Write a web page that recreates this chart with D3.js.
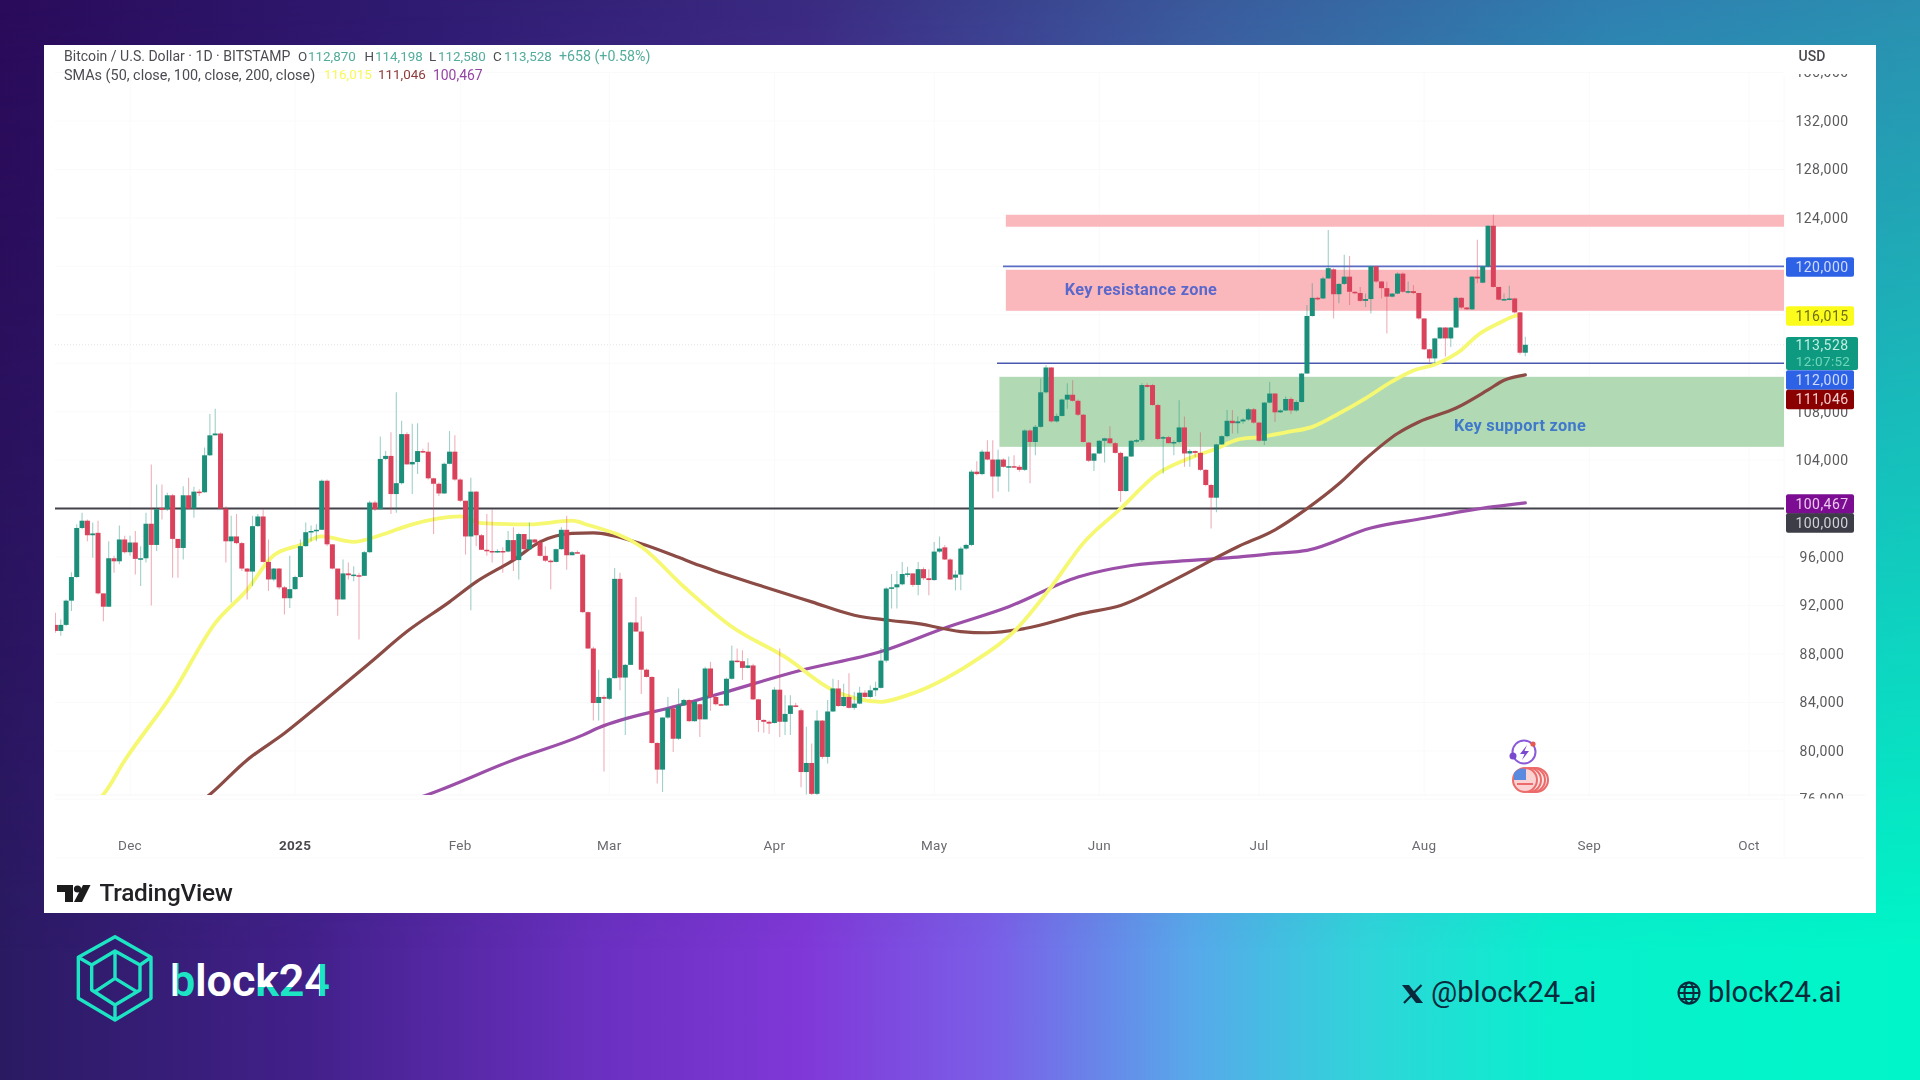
<!DOCTYPE html>
<html>
<head>
<meta charset="utf-8">
<title>BTC/USD daily</title>
<script src="https://cdn.jsdelivr.net/npm/d3@7"></script>
<style>
  html, body { margin: 0; padding: 0; background: #2a0a5a; overflow: hidden; }
  svg { display: block; }
  text { font-family: Roboto, "Liberation Sans", sans-serif; }
</style>
</head>
<body>
<svg id="chart" width="1920" height="1080"></svg>
<script>
// all prices are in thousand USD
var firstCandle = "2024-11-17";

var opens = [
  90.4,89.9,90.4,92.4,94.35,98.4,99.0,97.8,98.0,93.0,91.9,95.9,95.65,97.45,
  96.4,97.2,95.85,95.9,98.75,97.0,100.05,99.95,101.1,97.5,96.75,101.1,100.0,101.4,101.35,104.4,106.05,106.2,100.0,97.3,97.7,97.15,95.05,94.8,98.55,99.35,95.6,94.15,95.05,93.5,92.6,
  93.35,94.35,96.9,98.05,98.15,98.25,102.3,97.05,95.05,92.5,94.65,94.5,94.5,94.45,96.4,100.5,99.95,104.1,104.35,101.2,102.1,106.15,103.65,103.85,104.75,104.7,102.5,102.05,101.25,103.7,104.7,
  102.4,100.65,97.7,101.4,97.8,96.6,96.5,96.45,96.5,96.45,97.4,95.75,97.9,96.65,97.45,97.2,96.1,95.7,95.6,96.65,98.25,96.15,96.4,96.2,91.45,88.45,83.95,84.45,
  84.3,86.0,94.2,86.05,87.1,90.6,89.85,86.7,86.1,80.65,78.45,82.75,83.5,81.0,83.75,84.2,82.45,83.85,82.6,86.8,84.45,83.85,83.75,85.95,87.45,87.4,86.85,87.05,84.25,82.55,82.4,
  82.3,85.05,82.4,83.05,83.75,83.35,78.25,79.0,76.45,82.5,79.5,83.25,85.15,83.7,84.45,83.55,83.9,84.8,84.45,85.0,85.2,87.45,93.4,93.5,93.75,94.6,94.65,93.7,95.0,94.25,
  94.1,96.45,96.8,95.8,94.3,94.55,96.7,97.0,103.05,102.85,104.7,104.05,102.65,104.05,103.45,103.5,103.45,103.2,106.45,105.5,106.75,109.6,111.65,107.2,107.65,109.0,109.4,108.9,107.75,105.45,103.95,
  104.55,105.6,105.8,105.4,104.6,101.45,104.3,105.6,105.65,110.2,110.2,108.55,105.8,105.9,105.4,105.5,106.7,104.55,104.75,104.6,103.2,101.95,100.9,105.3,105.98,107.25,107.05,107.2,107.35,108.2,
  107.1,105.6,108.75,109.5,107.95,108.1,109.05,108.1,108.8,111.15,115.9,117.4,117.35,119.0,119.75,117.7,118.55,119.15,117.9,117.8,117.15,117.3,120.0,118.75,118.2,117.5,117.75,119.4,117.9,117.95,117.8,
  115.7,113.15,112.4,114.05,114.95,114.05,114.95,117.4,116.6,116.45,119.15,118.65,120.0,123.35,118.3,117.25,117.3,117.35,116.2,112.87
];
var highs = [
  91.4,90.85,92.5,94.75,98.7,99.65,99.1,98.85,99.0,93.0,97.3,96.1,98.6,97.75,
  97.75,98.15,96.9,99.65,103.65,102.0,102.0,101.3,101.2,97.45,101.85,102.55,101.8,101.6,105.05,107.8,108.25,106.3,100.2,99.4,99.55,97.25,95.1,99.4,99.55,99.95,97.45,95.1,95.1,93.6,96.1,
  94.45,97.45,98.85,98.6,98.7,102.4,102.4,97.05,95.0,95.8,95.55,95.25,94.7,96.5,100.65,100.65,105.95,104.75,106.3,109.6,107.25,106.3,107.0,107.05,104.95,105.45,102.55,102.15,103.8,106.4,106.05,
  102.5,100.65,102.55,101.45,97.9,99.55,99.95,96.65,96.8,98.15,98.45,98.0,97.9,98.85,97.5,97.45,96.9,95.8,96.7,98.45,99.4,96.5,96.55,96.3,91.5,88.6,86.7,84.6,
  86.1,95.1,94.7,87.2,90.65,92.7,91.1,86.8,86.15,80.7,82.8,84.45,83.75,85.15,84.3,84.25,84.2,83.9,86.95,87.35,84.6,83.9,86.05,88.7,88.45,88.3,87.65,87.2,84.3,82.6,82.5,
  85.25,88.45,84.6,84.6,83.95,83.5,82.0,80.6,83.35,82.55,84.2,85.95,85.85,85.55,86.4,84.85,85.3,85.0,85.4,85.7,88.5,93.5,94.6,94.85,95.6,95.2,94.65,95.6,95.15,95.0,
  97.25,97.7,97.0,95.9,94.9,96.85,97.1,103.2,103.9,104.85,105.65,105.65,104.85,104.15,104.3,104.4,103.6,106.55,106.55,106.9,110.75,111.85,111.7,107.85,109.1,110.35,110.6,109.0,107.8,105.5,104.6,
  105.65,105.85,106.8,105.5,104.7,104.35,105.65,105.75,110.35,110.35,110.3,108.65,106.0,106.0,105.65,108.95,107.6,104.9,104.8,106.3,103.25,102.05,105.35,106.05,108.15,108.15,107.6,107.45,108.3,108.3,
  107.15,108.8,110.45,109.55,108.2,109.25,109.2,108.95,111.2,116.8,118.6,117.5,119.15,123.0,119.85,118.6,120.95,120.85,117.95,118.3,117.75,120.05,120.05,118.8,118.75,117.8,119.5,119.5,118.75,118.45,117.8,
  115.7,113.2,114.1,115.0,115.0,115.0,117.5,117.45,116.65,119.2,122.2,120.05,123.4,124.25,118.3,117.75,118.4,117.4,116.25,114.198
];
var lows = [
  89.75,89.5,90.3,91.55,94.3,98.3,97.3,95.95,92.9,90.7,91.9,94.7,95.4,96.3,
  96.1,94.55,93.6,95.55,92.0,96.5,99.1,99.8,94.3,94.3,95.8,99.95,99.25,101.05,101.3,104.35,106.05,99.95,95.55,92.25,97.05,94.85,92.5,93.6,98.5,95.55,93.2,94.0,93.35,91.25,91.8,
  93.3,94.3,96.85,97.3,97.3,98.25,96.9,95.0,91.15,92.5,94.15,94.0,89.2,94.45,96.35,99.8,100.0,104.0,99.55,99.65,102.0,103.65,101.2,102.85,104.6,102.4,97.9,101.05,101.2,103.65,102.3,
  100.55,96.2,91.6,96.9,96.6,96.1,95.55,96.35,94.7,96.4,94.85,94.15,96.5,96.65,97.15,96.05,95.6,93.35,95.55,96.6,94.95,96.15,96.3,91.4,88.4,82.5,82.5,78.3,
  84.2,86.0,85.0,81.3,87.1,89.85,84.7,86.05,80.6,77.3,76.6,82.65,79.9,80.9,83.7,82.4,82.4,81.15,82.6,83.3,83.75,83.7,83.7,85.9,87.3,85.85,86.8,84.2,81.55,81.5,81.4,
  82.25,81.15,81.3,81.3,83.6,77.0,76.4,76.3,76.3,79.35,78.95,83.2,83.65,83.65,83.5,83.4,83.85,84.4,84.35,84.5,85.15,87.3,91.75,91.75,93.65,94.35,93.55,92.85,94.1,92.85,
  94.05,96.35,95.75,94.1,93.25,93.25,96.6,96.9,102.75,102.75,104.0,100.85,101.4,103.4,101.4,103.4,103.05,103.1,102.1,104.4,106.7,109.5,107.1,107.1,107.6,108.25,108.85,107.65,105.45,103.85,103.1,
  104.5,103.8,105.35,104.55,100.55,101.4,104.25,105.45,105.5,110.0,108.5,105.65,102.9,105.4,104.4,105.4,103.45,103.45,104.25,103.1,101.85,98.35,99.7,105.25,105.9,106.2,106.2,107.0,107.25,107.0,
  105.5,105.25,108.7,107.15,107.9,108.05,107.8,108.0,108.75,111.15,115.85,117.2,117.3,119.0,115.7,116.95,118.45,116.8,117.7,117.1,116.65,116.1,118.65,117.35,114.45,117.45,117.7,117.85,117.75,117.7,115.6,
  113.1,112.05,112.0,114.0,112.55,113.35,114.9,116.5,116.4,116.4,118.6,118.6,119.9,118.25,117.2,117.2,117.2,116.1,112.75,112.58
];
var closes = [
  89.9,90.4,92.4,94.35,98.4,99.0,97.8,97.95,93.0,91.9,95.9,95.65,97.45,96.4,
  97.2,95.85,95.9,98.75,97.0,99.95,99.9,101.1,97.5,96.75,101.1,100.0,101.4,101.35,104.4,106.05,106.2,100.0,97.3,97.7,97.15,95.05,94.8,98.55,99.35,95.6,94.15,95.05,93.5,92.6,93.35,
  94.35,96.9,98.05,98.15,98.25,102.3,97.05,95.05,92.5,94.65,94.5,94.55,94.45,96.4,100.5,99.95,104.1,104.35,101.2,102.1,106.15,103.65,103.85,104.75,104.7,102.5,102.05,101.25,103.7,104.7,102.4,
  100.65,97.7,101.4,97.8,96.6,96.5,96.45,96.5,96.45,97.4,95.75,97.9,96.65,97.45,97.2,96.1,95.7,95.6,96.65,98.25,96.15,96.4,96.35,91.45,88.45,83.95,84.45,84.3,
  86.0,94.2,86.05,87.1,90.6,89.85,86.7,86.1,80.65,78.45,82.75,83.5,81.0,83.75,84.2,82.45,84.05,82.6,86.8,84.45,83.85,83.75,85.95,87.45,87.4,86.85,87.05,84.25,82.55,82.4,82.25,
  85.05,82.4,83.05,83.75,83.65,78.25,79.0,76.45,82.5,79.5,83.25,85.15,83.7,84.45,83.55,83.9,84.8,84.45,85.0,85.2,87.45,93.4,93.5,93.75,94.6,94.65,93.7,95.0,94.25,94.1,
  96.45,96.7,95.8,94.15,94.55,96.7,97.0,103.05,102.85,104.7,104.05,102.65,104.05,103.45,103.5,103.45,103.2,106.45,105.5,106.75,109.6,111.65,107.2,107.65,109.0,109.4,108.9,107.75,105.5,103.95,104.55,
  105.6,105.8,105.4,104.6,101.45,104.3,105.6,105.65,110.2,110.05,108.55,105.75,105.9,105.4,105.5,106.7,104.55,104.75,104.6,103.2,101.95,100.9,105.3,105.98,107.25,107.05,107.2,107.35,108.2,107.1,
  105.6,108.75,109.5,107.95,108.1,109.05,108.1,108.8,111.15,115.9,117.4,117.35,119.0,119.85,117.7,118.55,119.15,117.9,117.8,117.15,117.3,120.0,118.75,118.2,117.5,117.75,119.4,117.9,117.95,117.8,115.7,
  113.15,112.4,114.05,114.95,114.05,114.95,117.4,116.6,116.45,119.15,119.0,120.0,123.35,118.3,117.25,117.3,117.35,116.2,112.87,113.528
];

var sma50Dates = ["2024-11-22","2024-11-26","2024-11-30","2024-12-09","2024-12-17","2024-12-23","2024-12-28","2025-01-02","2025-01-06","2025-01-12","2025-01-17","2025-01-23","2025-02-01","2025-02-05","2025-02-14","2025-02-22","2025-02-25","2025-03-07","2025-03-15","2025-03-24","2025-04-03","2025-04-12","2025-04-21","2025-04-26","2025-05-08","2025-05-16","2025-05-23","2025-05-29","2025-06-05","2025-06-12","2025-06-17","2025-06-23","2025-06-27","2025-07-01","2025-07-06","2025-07-11","2025-07-16","2025-07-21","2025-07-26","2025-07-30","2025-08-03","2025-08-08","2025-08-11","2025-08-15","2025-08-18","2025-08-19"];
var sma50Values = [75.2,76.4,79.2,84.74,90.55,93.3,96.15,97.0,97.7,97.25,97.8,98.7,99.35,98.8,98.7,99.0,98.65,96.85,93.55,90.25,87.75,85.0,84.05,84.6,87.25,89.85,93.55,97.15,100.0,102.9,104.0,104.96,105.7,105.9,106.3,106.75,107.85,109.1,110.5,111.4,111.9,113.1,114.3,115.3,115.9,116.015];

var sma100Dates = ["2024-12-12","2024-12-16","2024-12-23","2024-12-30","2025-01-06","2025-01-15","2025-01-22","2025-01-30","2025-02-04","2025-02-11","2025-02-16","2025-02-22","2025-02-26","2025-03-07","2025-03-13","2025-03-18","2025-03-30","2025-04-08","2025-04-16","2025-04-22","2025-04-28","2025-05-06","2025-05-11","2025-05-18","2025-05-29","2025-06-05","2025-06-15","2025-06-27","2025-07-04","2025-07-10","2025-07-16","2025-07-21","2025-07-27","2025-07-31","2025-08-07","2025-08-13","2025-08-16","2025-08-20"];
var sma100Values = [75.0,76.4,79.25,81.45,83.95,87.25,89.85,92.3,93.95,95.75,97.25,97.95,98.0,97.1,96.15,95.3,93.55,92.3,91.2,90.8,90.5,89.85,89.75,90.1,91.35,92.0,94.1,96.85,98.25,100.0,102.05,104.1,106.2,107.15,108.3,109.8,110.6,111.046];

var sma200Dates = ["2025-01-20","2025-01-26","2025-02-11","2025-02-24","2025-02-27","2025-03-14","2025-03-22","2025-04-06","2025-04-21","2025-05-03","2025-05-15","2025-05-28","2025-06-07","2025-06-19","2025-06-27","2025-07-04","2025-07-10","2025-07-22","2025-08-01","2025-08-10","2025-08-20"];
var sma200Values = [75.5,76.4,79.25,81.3,81.9,83.75,84.75,86.65,88.2,90.15,91.9,94.35,95.3,95.75,96.0,96.3,96.55,98.4,99.2,99.9,100.467];

var priceTicks = [76,80,84,88,92,96,100,104,108,112,116,120,124,128,132,136];
var monthTicks = ["2024-12-01","2025-01-01","2025-02-01","2025-03-01","2025-04-01","2025-05-01","2025-06-01","2025-07-01","2025-08-01","2025-09-01","2025-10-01"];
var monthLabels = ["Dec","2025","Feb","Mar","Apr","May","Jun","Jul","Aug","Sep","Oct"];

var zoneStarts = ["2025-05-14T11:00:00Z","2025-05-14T11:00:00Z","2025-05-13T06:00:00Z"];
var zoneTops = [124.26,119.72,110.88];
var zoneBottoms = [123.27,116.33,105.1];
var zoneNames = ["", "Key resistance zone", "Key support zone"];

var tagValues = ["120,000","116,015","112,000","111,046","100,467","100,000"];
var headerOhlc = ["O","112,870","H","114,198","L","112,580","C","113,528"];

// ----- page background -----
var svg = d3.select("#chart");
var defs = svg.append("defs");
var W = 1920, H = 1080;

function hGradient(id, stops) {
  var g = defs.append("linearGradient").attr("id", id);
  stops.forEach(function(s) {
    g.append("stop").attr("offset", s[0]).attr("stop-color", s[1]);
  });
}
hGradient("bgBottom", [[0,"#2a1a62"],[0.16,"#42208a"],[0.31,"#6a30c0"],[0.42,"#8038d8"],[0.52,"#7a60e8"],[0.62,"#58a8ea"],[0.71,"#30d4da"],[0.81,"#08f0cc"],[1,"#00f6c8"]]);
hGradient("bgTop", [[0,"#2a0a5a"],[0.21,"#2e1a70"],[0.42,"#3a2a80"],[0.63,"#3a5a9c"],[0.84,"#2f7fb0"],[1,"#2a8fb0"]]);
var fade = defs.append("linearGradient").attr("id", "bgFade").attr("x1",0).attr("y1",0).attr("x2",0).attr("y2",1);
fade.append("stop").attr("offset",0).attr("stop-color","#fff");
fade.append("stop").attr("offset",0.88).attr("stop-color","#000");
defs.append("mask").attr("id","bgMask").attr("maskUnits","userSpaceOnUse")
  .attr("x",0).attr("y",0).attr("width",W).attr("height",H)
  .append("rect").attr("width",W).attr("height",H).attr("fill","url(#bgFade)");
svg.append("rect").attr("width",W).attr("height",H).attr("fill","url(#bgBottom)");
svg.append("rect").attr("width",W).attr("height",H).attr("fill","url(#bgTop)").attr("mask","url(#bgMask)");

// the source is a soft screenshot
defs.append("filter").attr("id","soft").attr("x",0).attr("y",0).attr("width",1).attr("height",1)
  .attr("filterUnits","objectBoundingBox")
  .append("feGaussianBlur").attr("stdDeviation",0.7);

svg.append("rect").attr("x",44).attr("y",45).attr("width",1832).attr("height",868).attr("fill","#fff");
var panel = svg.append("g").attr("filter","url(#soft)");
panel.append("rect").attr("x",44).attr("y",45).attr("width",1832).attr("height",868).attr("fill","#fff");

// ----- scales -----
var parseDay = d3.utcParse("%Y-%m-%d");
var x = d3.scaleUtc().domain([parseDay("2024-12-01"), parseDay("2025-10-01")]).range([130,1749]);
var y = d3.scaleLinear().domain([100,132]).range([508.6,121]);
var plotLeft = 55, plotRight = 1784, plotTop = 73, plotBottom = 795;
var fmt = d3.format(",");

defs.append("clipPath").attr("id","plotClip").append("rect")
  .attr("x",plotLeft).attr("y",plotTop).attr("width",plotRight-plotLeft).attr("height",plotBottom-plotTop);
defs.append("clipPath").attr("id","axisClip").append("rect")
  .attr("x",plotRight).attr("y",plotTop+1).attr("width",90).attr("height",798.5-plotTop-1);

// ----- grid -----
var grid = panel.append("g").attr("stroke","#fafafb").attr("stroke-width",1);
grid.selectAll(".gy").data(priceTicks).join("line")
  .attr("x1",plotLeft).attr("x2",plotRight).attr("y1",function(d){return y(d);}).attr("y2",function(d){return y(d);});
grid.selectAll(".gx").data(monthTicks).join("line")
  .attr("y1",plotTop).attr("y2",plotBottom).attr("x1",function(d){return x(parseDay(d));}).attr("x2",function(d){return x(parseDay(d));});
grid.append("line").attr("x1",plotLeft).attr("x2",1865).attr("y1",858).attr("y2",858);
grid.append("line").attr("x1",plotLeft).attr("x2",1865).attr("y1",plotBottom).attr("y2",plotBottom).attr("stroke","#f6f6f8");
grid.append("line").attr("x1",plotRight).attr("x2",plotRight).attr("y1",75).attr("y2",858);

// ----- zones -----
var plot = panel.append("g").attr("clip-path","url(#plotClip)");
var zoneFill = ["#fab8bc","#fab8bc","#b1dab4"];
plot.selectAll(".zone").data(zoneTops).join("rect")
  .attr("x",function(d,i){return x(d3.isoParse(zoneStarts[i]));})
  .attr("width",function(d,i){return plotRight - x(d3.isoParse(zoneStarts[i]));})
  .attr("y",function(d){return y(d);})
  .attr("height",function(d,i){return y(zoneBottoms[i]) - y(d);})
  .attr("fill",function(d,i){return zoneFill[i];});

// current price dotted line
plot.append("line").attr("x1",plotLeft).attr("x2",plotRight).attr("y1",y(113.528)).attr("y2",y(113.528))
  .attr("stroke","#e4e6e6").attr("stroke-width",1).attr("stroke-dasharray","1 2");

// ----- level lines -----
plot.append("line").attr("x1",plotLeft).attr("x2",plotRight).attr("y1",y(100)).attr("y2",y(100))
  .attr("stroke","#43434b").attr("stroke-width",2);
plot.append("line").attr("x1",1003).attr("x2",plotRight).attr("y1",y(120)).attr("y2",y(120))
  .attr("stroke","#5a6cc4").attr("stroke-width",1.6);
plot.append("line").attr("x1",997).attr("x2",plotRight).attr("y1",y(112)).attr("y2",y(112))
  .attr("stroke","#4a58ae").attr("stroke-width",1.6);

// ----- moving averages -----
function smaLine(dates, values, color, width) {
  var line = d3.line()
    .x(function(d){return x(parseDay(d));})
    .y(function(d,i){return y(values[i]);})
    .curve(d3.curveMonotoneX);
  plot.append("path").attr("d",line(dates)).attr("fill","none")
    .attr("stroke",color).attr("stroke-width",width).attr("stroke-linecap","round");
}
smaLine(sma200Dates, sma200Values, "#9b4fa8", 3.2);
smaLine(sma100Dates, sma100Values, "#8c4b45", 3.2);
smaLine(sma50Dates, sma50Values, "#f5f870", 3.8);

// ----- candles -----
var start = parseDay(firstCandle);
var candles = closes.map(function(c,i){
  return {date: d3.utcDay.offset(start,i), o: opens[i], h: highs[i], l: lows[i], c: c};
});
var up = "#1c8f7a", down = "#d9435a";
var cg = plot.append("g");
cg.selectAll(".wick").data(candles).join("line")
  .attr("x1",function(d){return x(d.date);}).attr("x2",function(d){return x(d.date);})
  .attr("y1",function(d){return y(d.h);}).attr("y2",function(d){return y(d.l);})
  .attr("stroke",function(d){return d.c>=d.o?up:down;}).attr("stroke-width",1.1).attr("stroke-opacity",0.42);
cg.selectAll(".body").data(candles).join("rect")
  .attr("x",function(d){return x(d.date)-2.5;}).attr("width",5)
  .attr("y",function(d){return y(Math.max(d.o,d.c));})
  .attr("height",function(d){return Math.max(1.5, Math.abs(y(d.o)-y(d.c)));})
  .attr("fill",function(d){return d.c>=d.o?up:down;});

// zone captions
var captionX = [null,1141,1520], captionY = [null,295,431];
zoneNames.forEach(function(name,i){
  if (!name) return;
  plot.append("text").text(name).attr("x",captionX[i]).attr("y",captionY[i])
    .attr("text-anchor","middle").attr("font-size",16.3).attr("font-weight",700)
    .attr("letter-spacing",0.3).attr("fill", i==1 ? "#5a68cc" : "#3f78cc");
});

// ----- price axis -----
var axisG = panel.append("g").attr("clip-path","url(#axisClip)");
axisG.selectAll("text").data(priceTicks).join("text")
  .text(function(d){return fmt(d*1000);})
  .attr("x",1822).attr("y",function(d){return y(d);}).attr("dy","0.35em")
  .attr("text-anchor","middle").attr("font-size",14).attr("letter-spacing",0.45).attr("fill","#5a5a5e");

// tags sit where the chart stacked them, not always on their exact price
var tagCenters = [267,316,380,399.5,504,523];
var tagFills = ["#2f62e6","#fbfc1e","#2f62e6","#8a0606","#7b1192","#3c3c46"];
var tagInk = ["#cfdcff","#6e6e12","#cfdcff","#f2cccc","#ecc8f0","#d2d2d8"];
var tagG = panel.append("g");

// live price tag with countdown
tagG.append("rect").attr("x",1786).attr("y",337).attr("width",72).attr("height",33).attr("rx",2).attr("fill","#0f9a80");
tagG.append("text").text("113,528").attr("x",1822).attr("y",345.5).attr("dy","0.35em").attr("text-anchor","middle")
  .attr("font-size",14).attr("letter-spacing",0.45).attr("fill","#bfeee0");
tagG.append("text").text("12:07:52").attr("x",1823).attr("y",361).attr("dy","0.35em").attr("text-anchor","middle")
  .attr("font-size",13.5).attr("letter-spacing",0.3).attr("fill","#6fd6ba");

tagValues.forEach(function(v,i){
  tagG.append("rect").attr("x",1786).attr("y",tagCenters[i]-9.7).attr("width",68).attr("height",19.4).attr("rx",2).attr("fill",tagFills[i]);
  tagG.append("text").text(v).attr("x",1822).attr("y",tagCenters[i]).attr("dy","0.35em").attr("text-anchor","middle")
    .attr("font-size",14).attr("letter-spacing",0.45).attr("fill",tagInk[i]);
});

panel.append("text").text("USD").attr("x",1812).attr("y",56).attr("dy","0.35em").attr("text-anchor","middle")
  .attr("font-size",14).attr("font-weight",500).attr("fill","#4a4a50");

// ----- time axis -----
panel.selectAll(".month").data(monthTicks).join("text")
  .text(function(d,i){return monthLabels[i];})
  .attr("x",function(d){return x(parseDay(d));}).attr("y",845.5).attr("dy","0.35em").attr("text-anchor","middle")
  .attr("font-size",13.5).attr("letter-spacing",0.3)
  .attr("font-weight",function(d,i){return monthLabels[i]=="2025"?700:400;})
  .attr("fill",function(d,i){return monthLabels[i]=="2025"?"#4a4a50":"#6a6a70";});

// ----- legend lines -----
var ink = "#4c4c52", teal = "#53ad9c";
function legendText(g, s, px, py, fill, size) {
  g.append("text").text(s).attr("x",px).attr("y",py).attr("dy","0.35em").attr("font-size",size||13.4).attr("fill",fill);
}
var legend = panel.append("g");
legendText(legend,"Bitcoin / U.S. Dollar · 1D · BITSTAMP",64,56,ink,14.05);
var ohlcX = [298,308,364.5,375,429,438,493,504];
headerOhlc.forEach(function(s,i){ legendText(legend,s,ohlcX[i],56,i%2?teal:ink); });
legendText(legend,"+658 (+0.58%)",559,56,teal,14.2);
legendText(legend,"SMAs (50, close, 100, close, 200, close)",64,74.7,ink,14.4);
legendText(legend,"116,015",324,74.7,"#f8f85a");
legendText(legend,"111,046",378,74.7,"#8e3a3a");
legendText(legend,"100,467",433,74.7,"#9444a4",13.9);

// ----- event icons -----
var icons = panel.append("g");
icons.append("circle").attr("cx",1524).attr("cy",752).attr("r",11.5).attr("fill","#fff").attr("stroke","#8a5ad8").attr("stroke-width",2);
icons.append("path").attr("d","M1527 745 L1520 754 H1524.5 L1522 760 L1529 751 H1524.5 Z").attr("fill","#7a48d0");
icons.append("circle").attr("cx",1513).attr("cy",756).attr("r",3.5).attr("fill","#7a48d0");
icons.append("circle").attr("cx",1533).attr("cy",744).attr("r",2.6).attr("fill","#e85a50");
[1536,1533,1529].forEach(function(cx){
  icons.append("circle").attr("cx",cx).attr("cy",780).attr("r",12).attr("fill","#fde4e2").attr("stroke","#ec6a6a").attr("stroke-width",2);
});
icons.append("circle").attr("cx",1525).attr("cy",780).attr("r",12).attr("fill","#fbd2d2").attr("stroke","#ec6a6a").attr("stroke-width",2);
icons.append("path").attr("d","M1514 773 A12 12 0 0 1 1526 769 V780 H1514 Z").attr("fill","#5a8ae0");
icons.append("rect").attr("x",1517).attr("y",783).attr("width",16).attr("height",2).attr("fill","#ec6a6a");

// ----- TradingView mark -----
var tv = panel.append("g").attr("fill","#1a1a1e");
tv.append("path").attr("d","M57 885 H73 V902 H65 V892 H57 Z");
tv.append("circle").attr("cx",77.5).attr("cy",889).attr("r",3.6);
tv.append("path").attr("d","M83 885 H90.5 L82 902 H74 Z");
tv.append("text").text("TradingView").attr("x",99.5).attr("y",901).attr("font-size",24.4).attr("font-weight",500)
  .attr("fill","#222226").attr("font-family","Inter, Roboto, sans-serif").attr("letter-spacing",-0.25);

// ----- block24 brand -----
var mint = "#1de5c4";
function ox(v){ return 40 + v/3; }
function oy(v){ return 820 + v/3; }
function poly(pts){ return "M" + pts.map(function(p){return ox(p[0])+" "+oy(p[1]);}).join("L") + "Z"; }
function seg(a,b){ return "M"+ox(a[0])+" "+oy(a[1])+"L"+ox(b[0])+" "+oy(b[1]); }
var logoPath = poly([[225,350],[333,412],[333,535],[225,600],[115,535],[115,412]])
  + poly([[225,393],[300,435],[300,510],[225,555],[155,510],[155,435]])
  + seg([225,475],[225,393]) + seg([225,475],[165,515]) + seg([225,475],[290,515])
  + seg([333,412],[300,435]) + seg([115,412],[155,435]) + seg([225,600],[225,555]);
svg.append("path").attr("d",logoPath).attr("fill","none").attr("stroke",mint).attr("stroke-width",3.4).attr("stroke-linejoin","round");

function splitGradient(id, vertical, at) {
  var g = defs.append("linearGradient").attr("id",id);
  if (vertical) g.attr("x1",0).attr("y1",0).attr("x2",0).attr("y2",1);
  g.append("stop").attr("offset",at).attr("stop-color","#fff");
  g.append("stop").attr("offset",at).attr("stop-color",mint);
}
splitGradient("mintLow", true, 0.62);
splitGradient("mintRight", false, 0.6);
splitGradient("mintBowl", false, 0.28);
var brand = svg.append("g").attr("font-family","Inter, Lato, sans-serif").attr("font-weight",600).attr("font-size",45);
var brandLetters = ["b","l","o","c","k","2","4"];
var brandFill = ["url(#mintBowl)","#fff","#fff","#fff","url(#mintLow)","url(#mintLow)","url(#mintRight)"];
var brandX = 170;
brandLetters.forEach(function(ch,i){
  var t = brand.append("text").text(ch).attr("x",brandX).attr("y",996).attr("fill",brandFill[i]);
  brandX += t.node().getComputedTextLength() - 0.2;
});

// ----- social handles -----
var dark = "#082a3c";
var social = svg.append("g").attr("font-family","Inter, Roboto, sans-serif").attr("font-size",29.2).attr("fill",dark);
social.append("text").text("@block24_ai").attr("x",1431).attr("y",1002);
social.append("text").text("block24.ai").attr("x",1708).attr("y",1002);
svg.append("path").attr("d","M1402 985 H1409 L1423 1003 H1416 Z").attr("fill",dark);
svg.append("path").attr("d","M1421.5 985 L1404 1003").attr("stroke",dark).attr("stroke-width",2.2).attr("fill","none");
var globe = svg.append("g").attr("fill","none").attr("stroke",dark).attr("stroke-width",2);
globe.append("circle").attr("cx",1689).attr("cy",993).attr("r",10.5);
globe.append("ellipse").attr("cx",1689).attr("cy",993).attr("rx",4.6).attr("ry",10.5);
globe.append("path").attr("d","M1678.5 993 H1699.5 M1680.5 987 H1697.5 M1680.5 999 H1697.5");
</script>
</body>
</html>
